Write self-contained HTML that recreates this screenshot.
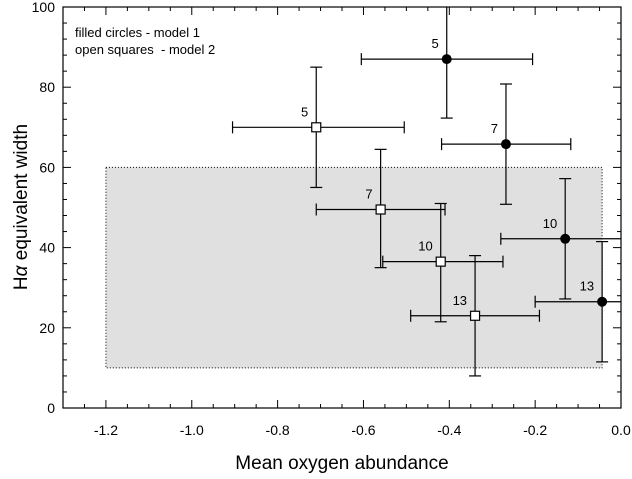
<!DOCTYPE html>
<html><head><meta charset="utf-8"><style>
body{margin:0;background:#fff;}
svg{display:block;font-family:"Liberation Sans",sans-serif;}
</style></head><body>
<svg id="chart" width="632" height="479" viewBox="0 0 632 479"></svg>
<script>
const filledX=[-0.406,-0.268,-0.13,-0.044];
const filledY=[87,65.8,42.2,26.5];
const filledXLo=[-0.605,-0.418,-0.28,-0.2];
const filledXHi=[-0.206,-0.117,0.02,0.02];
const filledYLo=[72.3,50.8,27.2,11.5];
const filledYHi=[102,80.8,57.2,41.5];
const filledLab=["5","7","10","13"];
const openX=[-0.71,-0.56,-0.42,-0.34];
const openY=[70,49.5,36.5,23];
const openXLo=[-0.905,-0.71,-0.555,-0.49];
const openXHi=[-0.505,-0.41,-0.275,-0.19];
const openYLo=[55,35,21.5,8];
const openYHi=[85,64.5,51,38];
const openLab=["5","7","10","13"];
const xTicks=[-1.2,-1.0,-0.8,-0.6,-0.4,-0.2,0.0];
const xTickLabels=["-1.2","-1.0","-0.8","-0.6","-0.4","-0.2","0.0"];
const yTicks=[0,20,40,60,80,100];
const band=[-1.2,-0.044,10,60];

const L=63,R=621,T=7,B=408,X0=-1.3,X1=0,Y0=0,Y1=100;
const sx=v=>L+(v-X0)/(X1-X0)*(R-L);
const sy=v=>B-(v-Y0)/(Y1-Y0)*(B-T);
const svg=document.getElementById('chart');
const NS='http://www.w3.org/2000/svg';
function mk(t,a,p){const e=document.createElementNS(NS,t);for(const k in a)e.setAttribute(k,a[k]);(p||svg).appendChild(e);return e;}

const clip=mk('clipPath',{id:'pc'});mk('rect',{x:L,y:T,width:R-L,height:B-T},clip);

let r=mk('rect',{x:sx(band[0]),y:sy(band[3]),width:sx(band[1])-sx(band[0]),height:sy(band[2])-sy(band[3]),fill:'#e0e0e0',stroke:'#000','stroke-width':1,'stroke-dasharray':'1,2'});


const g=mk('g',{'clip-path':'url(#pc)'});

function series(xs,ys,xl,xh,yl,yh,labs,filled,name){
  for(let i=0;i<xs.length;i++){
    const pg=mk('g',{},g);
    
    
    const st={stroke:'#000','stroke-width':1.2,fill:'none'};
    const cx=sx(xs[i]),cy=sy(ys[i]);
    mk('line',Object.assign({x1:sx(xl[i]),x2:sx(xh[i]),y1:cy,y2:cy},st),pg);
    mk('line',Object.assign({x1:cx,x2:cx,y1:sy(yl[i]),y2:sy(yh[i])},st),pg);
    [xl[i],xh[i]].forEach(v=>mk('line',Object.assign({x1:sx(v),x2:sx(v),y1:cy-6,y2:cy+6},st),pg));
    [yl[i],yh[i]].forEach(v=>mk('line',Object.assign({x1:cx-6,x2:cx+6,y1:sy(v),y2:sy(v)},st),pg));
    if(filled) mk('circle',{cx:cx,cy:cy,r:5,fill:'#000'},pg);
    else mk('rect',{x:cx-4.5,y:cy-4.5,width:9,height:9,fill:'#fff',stroke:'#000','stroke-width':1.2},pg);
    const t=mk('text',{x:cx-8,y:cy-11,'font-size':13,'text-anchor':'end'},pg);t.textContent=labs[i];
  }
}
series(openX,openY,openXLo,openXHi,openYLo,openYHi,openLab,false,'model2');
series(filledX,filledY,filledXLo,filledXHi,filledYLo,filledYHi,filledLab,true,'model1');

const fr=mk('rect',{x:L,y:T,width:R-L,height:B-T,fill:'none',stroke:'#000','stroke-width':1.2});


for(let v=-1.3;v<=0.001;v+=0.05){
  const vv=Math.round(v*100)/100;const maj=xTicks.some(t=>Math.abs(t-vv)<1e-6);const len=maj?8:4;const x=sx(vv);
  mk('line',{x1:x,x2:x,y1:B,y2:B-len,stroke:'#000'});mk('line',{x1:x,x2:x,y1:T,y2:T+len,stroke:'#000'});
}
for(let v=0;v<=100;v+=4){
  const maj=v%20===0;const len=maj?8:4;const y=sy(v);
  mk('line',{x1:L,x2:L+len,y1:y,y2:y,stroke:'#000'});mk('line',{x1:R,x2:R-len,y1:y,y2:y,stroke:'#000'});
}
xTicks.forEach((v,i)=>{const t=mk('text',{x:sx(v),y:B+27,'font-size':14,'text-anchor':'middle'});t.textContent=xTickLabels[i];
});
yTicks.forEach(v=>{const t=mk('text',{x:L-8,y:sy(v)+5,'font-size':14,'text-anchor':'end'});t.textContent=v;
});
</script>
<div style="position:absolute;left:75px;top:24px;font:13px 'Liberation Sans',sans-serif;line-height:17px;">
<div>filled circles - model 1</div>
<div>open squares&nbsp; - model 2</div></div>
<div style="position:absolute;left:63px;width:558px;top:453px;text-align:center;font:19px 'Liberation Sans',sans-serif;">Mean oxygen abundance</div>
<div style="position:absolute;left:-88px;top:196px;width:220px;text-align:center;transform:rotate(-90deg);font:19px 'Liberation Sans',sans-serif;">H<i>α</i> equivalent width</div>
</body></html>
